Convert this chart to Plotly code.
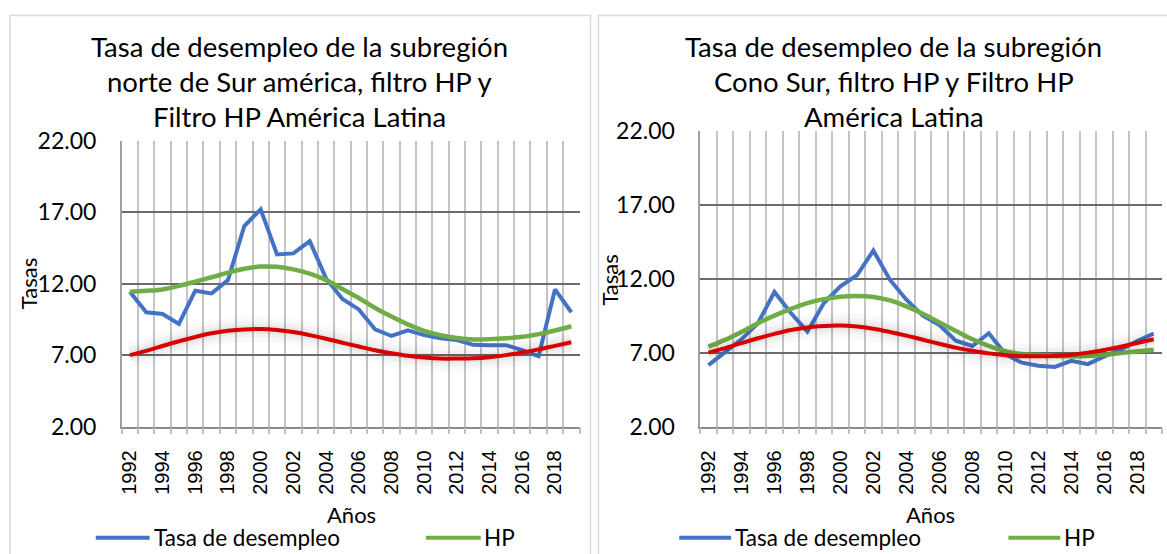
import plotly.graph_objects as go

W, H = 1167, 554

years = list(range(1992, 2020))
norte_tasa = [11.44, 10.0, 9.88, 9.18, 11.51, 11.32, 12.26, 16.04, 17.2, 14.05, 14.12, 14.98, 12.37, 10.93,
              10.2, 8.8, 8.34, 8.74, 8.4, 8.18, 8.06, 7.72, 7.7, 7.7, 7.35, 6.93, 11.6, 10.0]
norte_hp = [11.44, 11.5, 11.6, 11.85, 12.15, 12.45, 12.77, 13.05, 13.2, 13.18, 13.0, 12.7, 12.25, 11.63,
            11.0, 10.3, 9.7, 9.15, 8.7, 8.4, 8.2, 8.1, 8.12, 8.18, 8.28, 8.47, 8.72, 9.02]
latam_hp = [7.0, 7.3, 7.64, 7.97, 8.27, 8.53, 8.7, 8.8, 8.83, 8.76, 8.62, 8.4, 8.15, 7.87,
            7.6, 7.34, 7.13, 6.95, 6.83, 6.76, 6.76, 6.78, 6.86, 7.0, 7.18, 7.4, 7.65, 7.9]
cono_tasa = [6.16, 7.05, 7.9, 8.99, 11.1, 9.68, 8.42, 10.35, 11.48, 12.23, 13.9, 11.93, 10.58, 9.5,
             8.87, 7.81, 7.45, 8.31, 6.9, 6.32, 6.12, 6.03, 6.44, 6.22, 6.75, 7.2, 7.79, 8.29]
cono_hp = [7.4, 7.86, 8.4, 8.99, 9.5, 9.96, 10.35, 10.62, 10.78, 10.83, 10.76, 10.53, 10.13, 9.63,
           9.05, 8.47, 7.9, 7.45, 7.1, 6.9, 6.85, 6.78, 6.75, 6.77, 6.86, 6.97, 7.1, 7.18]

y_ticks = [2, 7, 12, 17, 22]
x_ticks = years[::2]

titles_left = ["Tasa de desempleo de la subregión", "norte de Sur américa, filtro HP y",
               "Filtro HP América Latina"]
titles_right = ["Tasa de desempleo de la subregión", "Cono Sur, filtro HP y Filtro HP",
                "América Latina"]

BLUE = "#4472C4"
GREEN = "#70AD47"
RED = "#D80000"
FONT = "Lato"

# the page photograph maps figure rows as r = 0.947*y + 15.5; place items by target row
VA, VB = 0.947, 15.5


def px(x):
    return x / W


def py(t):
    return 1 - ((t - VB) / VA) / H


fig = go.Figure()

for xa, ya, tasa, hp in [("x", "y", norte_tasa, norte_hp), ("x2", "y2", cono_tasa, cono_hp)]:
    fig.add_trace(go.Scatter(x=years, y=tasa, mode="lines", line=dict(color=BLUE, width=4),
                             xaxis=xa, yaxis=ya, showlegend=False, name="Tasa de desempleo"))
    fig.add_trace(go.Scatter(x=years, y=hp, mode="lines", line=dict(color=GREEN, width=4.5, shape="spline"),
                             xaxis=xa, yaxis=ya, showlegend=False, name="HP"))
    for w, a in [(26, 0.025), (16, 0.03), (9, 0.04)]:
        fig.add_trace(go.Scatter(x=years, y=latam_hp, mode="lines",
                                 line=dict(color=f"rgba(0,0,0,{a})", width=w, shape="spline"),
                                 xaxis=xa, yaxis=ya, showlegend=False, hoverinfo="skip"))
    fig.add_trace(go.Scatter(x=years, y=latam_hp, mode="lines", line=dict(color=RED, width=4, shape="spline"),
                             xaxis=xa, yaxis=ya, showlegend=False, name="HP América Latina"))

minor_vals = [y - 0.5 for y in years] + [years[-1] + 0.5]

xcommon = dict(range=[years[0] - 0.5, years[-1] + 0.5], tickmode="array", tickvals=x_ticks,
               ticktext=[str(v) for v in x_ticks], tickangle=-90, showgrid=False, ticks="",
               tickfont=dict(family="Liberation Sans", size=20, color="#000"),
               ticklabelstandoff=14, zeroline=False, showline=True, linecolor="#8c8c8c", linewidth=1.5,
               minor=dict(tickmode="array", tickvals=minor_vals, showgrid=True, gridcolor="#c4c4c4",
                          gridwidth=2, ticks="outside", ticklen=6, tickcolor="#bfbfbf", tickwidth=1.5))
ycommon = dict(range=[2, 22], tickmode="array", tickvals=y_ticks, tickformat=".2f", showgrid=True,
               gridcolor="#6b6b6b", gridwidth=1.5, ticks="", zeroline=False,
               tickfont=dict(family=FONT, size=23, color="#000"), ticklabelstandoff=19,
               showline=True, linecolor="#a0a0a0", linewidth=1.5)

fig.update_layout(
    width=W, height=H, margin=dict(l=0, r=0, t=0, b=0),
    paper_bgcolor="white", plot_bgcolor="white",
    xaxis=dict(domain=[px(119), px(578)], anchor="y", **xcommon),
    yaxis=dict(domain=[py(426), py(141)], anchor="x", **ycommon),
    xaxis2=dict(domain=[px(699), px(1162)], anchor="y2", **xcommon),
    yaxis2=dict(domain=[py(426), py(131)], anchor="x2", **ycommon),
)

ann = []
shapes = []
for cx, lines in [(297, titles_left), (893, titles_right)]:
    for i, t in enumerate(lines):
        ann.append(dict(text=t, x=px(cx), y=py(47 + 35 * i), xref="paper", yref="paper",
                        showarrow=False, xanchor="center", yanchor="middle",
                        font=dict(family=FONT, size=27.5, color="#000")))

for cx, cy in [(25, 283), (608, 280)]:
    ann.append(dict(text="Tasas", x=px(cx), y=py(cy), xref="paper", yref="paper", showarrow=False,
                    textangle=-90, xanchor="center", yanchor="middle",
                    font=dict(family=FONT, size=22, color="#000")))
for cx in [349, 930]:
    ann.append(dict(text="Años", x=px(cx), y=py(514), xref="paper", yref="paper", showarrow=False,
                    xanchor="center", yanchor="middle", font=dict(family=FONT, size=22, color="#000")))

# legends
for (bx0, bx1, bt, gx0, gx1, gt) in [(93, 147, 149, 424, 479, 480), (678, 730, 732, 1008, 1060, 1062)]:
    ly = 537
    shapes.append(dict(type="line", xref="paper", yref="paper", x0=px(bx0), x1=px(bx1), y0=py(ly), y1=py(ly),
                       line=dict(color=BLUE, width=4)))
    shapes.append(dict(type="line", xref="paper", yref="paper", x0=px(gx0), x1=px(gx1), y0=py(ly), y1=py(ly),
                       line=dict(color=GREEN, width=4)))
    ann.append(dict(text="Tasa de desempleo", x=px(bt), y=py(ly), xref="paper", yref="paper", showarrow=False,
                    xanchor="left", yanchor="middle", font=dict(family=FONT, size=22.5, color="#000")))
    ann.append(dict(text="HP", x=px(gt), y=py(ly), xref="paper", yref="paper", showarrow=False,
                    xanchor="left", yanchor="middle", font=dict(family=FONT, size=22.5, color="#000")))

# panel frames
shapes.append(dict(type="rect", xref="paper", yref="paper", x0=px(7), x1=px(589), y0=-0.1, y1=0.999,
                   line=dict(color="#d9d9d9", width=1.5), layer="below"))
shapes.append(dict(type="rect", xref="paper", yref="paper", x0=px(597), x1=px(1180), y0=-0.1, y1=0.999,
                   line=dict(color="#d9d9d9", width=1.5), layer="below"))

fig.update_layout(annotations=ann, shapes=shapes)
fig.write_html("out.html", config={"displayModeBar": False},
               post_script="document.body.style.margin='0';document.body.style.padding='0';"
                           "document.body.style.overflow='hidden';")
